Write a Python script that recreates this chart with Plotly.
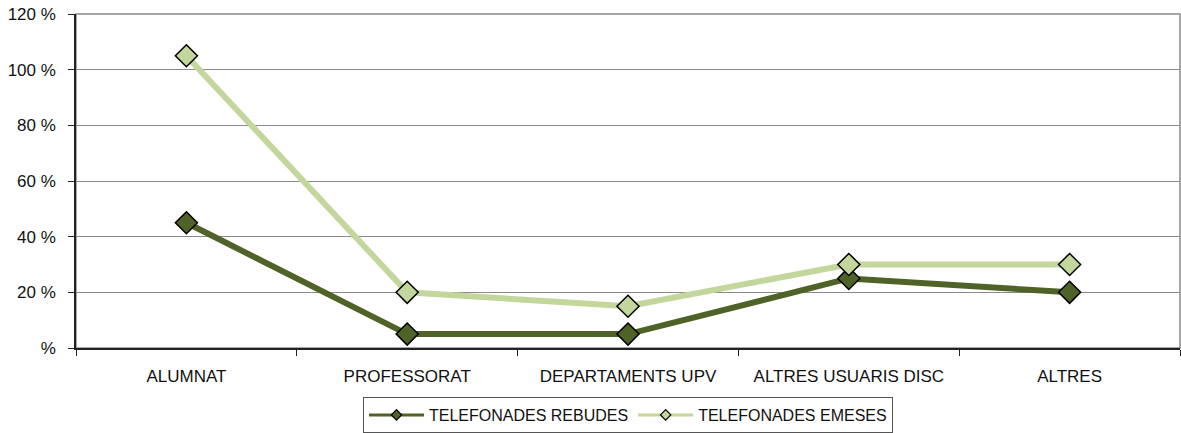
import plotly.graph_objects as go

categories = ["ALUMNAT", "PROFESSORAT", "DEPARTAMENTS UPV", "ALTRES USUARIS DISC", "ALTRES"]
rebudes = [45, 5, 5, 25, 20]
emeses = [105, 20, 15, 30, 30]
y_ticks = [0, 20, 40, 60, 80, 100, 120]
y_tick_labels = ["%", "20 %", "40 %", "60 %", "80 %", "100 %", "120 %"]
series_names = ["TELEFONADES REBUDES", "TELEFONADES EMESES"]

dark = "#4F6228"
light = "#C3D69B"

fig = go.Figure()
for vals, name, col in [(rebudes, series_names[0], dark), (emeses, series_names[1], light)]:
    fig.add_trace(go.Scatter(
        x=categories, y=vals, name=name, mode="lines+markers", showlegend=False,
        line=dict(color=col, width=6),
        marker=dict(symbol="diamond", size=17, color=col, line=dict(color="black", width=1.5)),
    ))
# legend-only entries with small markers, as in the reference legend
for name, col in [(series_names[0], dark), (series_names[1], light)]:
    fig.add_trace(go.Scatter(
        x=[None], y=[None], name=name, mode="lines+markers",
        line=dict(color=col, width=3),
        marker=dict(symbol="diamond", size=8, color=col, line=dict(color="black", width=1.2)),
    ))

fig.update_layout(
    width=1181, height=433,
    margin=dict(l=76, r=1, t=14, b=85),
    plot_bgcolor="white", paper_bgcolor="white",
    font=dict(family="Liberation Sans, Arial, sans-serif", size=16, color="#222"),
    showlegend=True,
    legend=dict(
        orientation="h", x=0.5, xanchor="center", y=0, yref="container", yanchor="bottom",
        bordercolor="#555", borderwidth=1, bgcolor="white",
        font=dict(size=16, color="#111"), itemwidth=55, traceorder="normal",
    ),
)
fig.update_xaxes(
    type="category", range=[-0.5, 4.5], tickson="boundaries",
    ticks="outside", ticklen=6, tickcolor="#222",
    showline=True, linecolor="#222", linewidth=1.5, mirror=False,
    showgrid=False, tickfont=dict(size=17, color="#111"), ticklabelstandoff=12,
)
fig.update_yaxes(
    range=[0, 120], tickvals=y_ticks, ticktext=y_tick_labels,
    ticks="outside", ticklen=6, tickcolor="#222",
    showline=True, linecolor="#222", linewidth=1.5,
    showgrid=True, gridcolor="#8a8a8a", gridwidth=1,
    zeroline=False, tickfont=dict(size=17, color="#111"), ticklabelstandoff=9,
)
# right and top border
fig.add_shape(type="rect", xref="paper", yref="paper", x0=0, y0=0, x1=1, y1=1,
              line=dict(color="#8a8a8a", width=1.5), layer="below")

fig.write_html("out.html", config={"displayModeBar": False},
               post_script="document.body.style.margin='0';document.body.style.overflow='hidden';")
